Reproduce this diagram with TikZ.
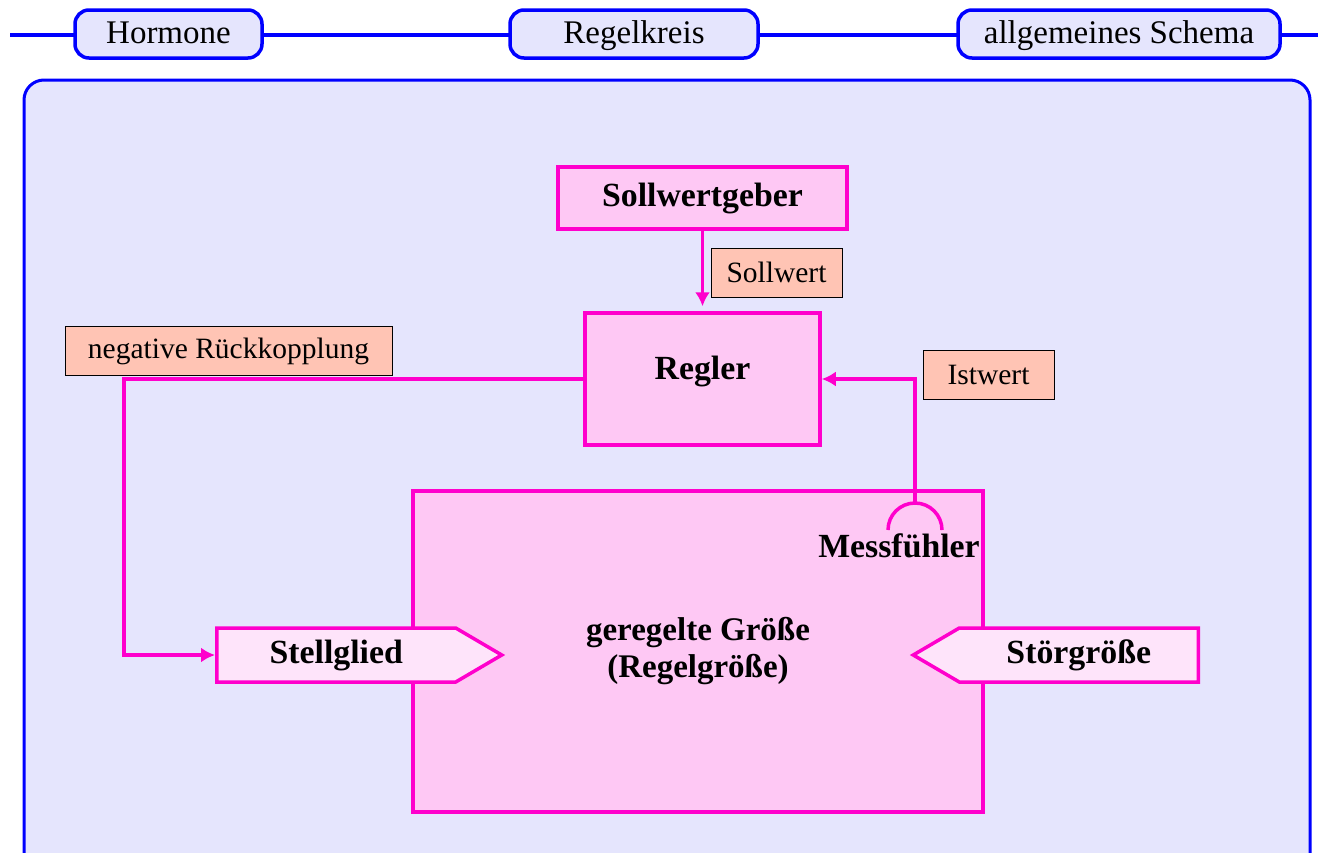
\documentclass[tikz,border=0pt]{standalone}
\usepackage{fontspec}
\setmainfont{Liberation Serif}
\usetikzlibrary{shapes.symbols,arrows.meta}
\definecolor{tabblue}{RGB}{0,0,255}
\definecolor{lavender}{RGB}{229,229,253}
\definecolor{boxpink}{RGB}{254,200,244}
\definecolor{lightpink}{RGB}{254,228,250}
\definecolor{magentaline}{RGB}{255,0,204}
\definecolor{salmon}{RGB}{255,196,180}

\begin{document}
\begin{tikzpicture}[x=1pt,y=-1pt]
  \tikzstyle{tab}=[draw=tabblue,line width=3.5pt,fill=lavender,rounded corners=14pt,minimum height=48pt,inner sep=0pt,text height=22pt,text depth=4pt,font=\fontsize{33}{38}\selectfont]
  \tikzstyle{block}=[draw=magentaline,line width=3.5pt,fill=boxpink,inner sep=0pt,font=\fontsize{33.8}{38}\selectfont\bfseries]
  \tikzstyle{tag}=[draw=black,line width=1pt,fill=salmon,minimum height=49pt,inner sep=0pt,font=\fontsize{29.5}{34}\selectfont]
  \tikzstyle{actor}=[block,fill=lightpink,shape=signal,signal from=nowhere,signal pointer angle=60.8,minimum height=54pt,minimum width=285pt]
  \tikzstyle{flow}=[draw=magentaline,line width=3.5pt,-{Latex[length=14pt,width=15pt]}]
  \useasboundingbox (0,0) rectangle (1324,852);
  \clip (0,0) rectangle (1324,852);
  \draw[tabblue,line width=4.5pt] (10,35) -- (1318,35);
  \node[tab,minimum width=187pt] (hormone) at (168.5,34) {Hormone};
  \node[tab,minimum width=248pt] (regelkreis) at (634,34) {Regelkreis};
  \node[tab,minimum width=322pt] (schema) at (1119,34) {allgemeines Schema};
  \draw[tabblue,line width=3pt,fill=lavender,rounded corners=20pt] (24,80) rectangle (1310,900);
  \node[block,minimum width=289pt,minimum height=62pt] (geber) at (702.5,198) {Sollwertgeber};
  \node[tag,minimum width=131pt] (sollwert) at (776.5,272.5) {Sollwert};
  \node[block,minimum width=235pt,minimum height=132pt,text height=24pt,text depth=24pt] (regler) at (702.5,379) {Regler};
  \node[tag,minimum width=327pt] (rueck) at (228.5,351) {negative Rückkopplung};
  \node[tag,minimum width=131pt] (istwert) at (988.5,374.5) {Istwert};
  \node[block,minimum width=570pt,minimum height=321pt,align=center,font=\fontsize{33}{37}\selectfont\bfseries] (groesse) at (698,651.5) {geregelte Größe\\(Regelgröße)};
  \node[font=\fontsize{33.8}{38}\selectfont\bfseries] (messtext) at (899,546) {Messfühler};
  \node[actor,signal to=east,anchor=west] (stell) at (215,655) {Stellglied};
  \node[actor,signal to=west,anchor=east] (stoer) at (1200,655) {Störgröße};
  \coordinate (sensor) at (915,504);
  \coordinate (knick) at (124,383);
  \draw[magentaline,line width=3.5pt] (888,530) arc[start angle=180,end angle=360,radius=27];
  \draw[flow,shorten >=5pt] (geber.south) -- (regler.north);
  \draw[flow] (sensor) |- (regler.east);
  \draw[flow] (regler.west) -- (regler.west -| knick) |- (stell.west);
\end{tikzpicture}
\end{document}
